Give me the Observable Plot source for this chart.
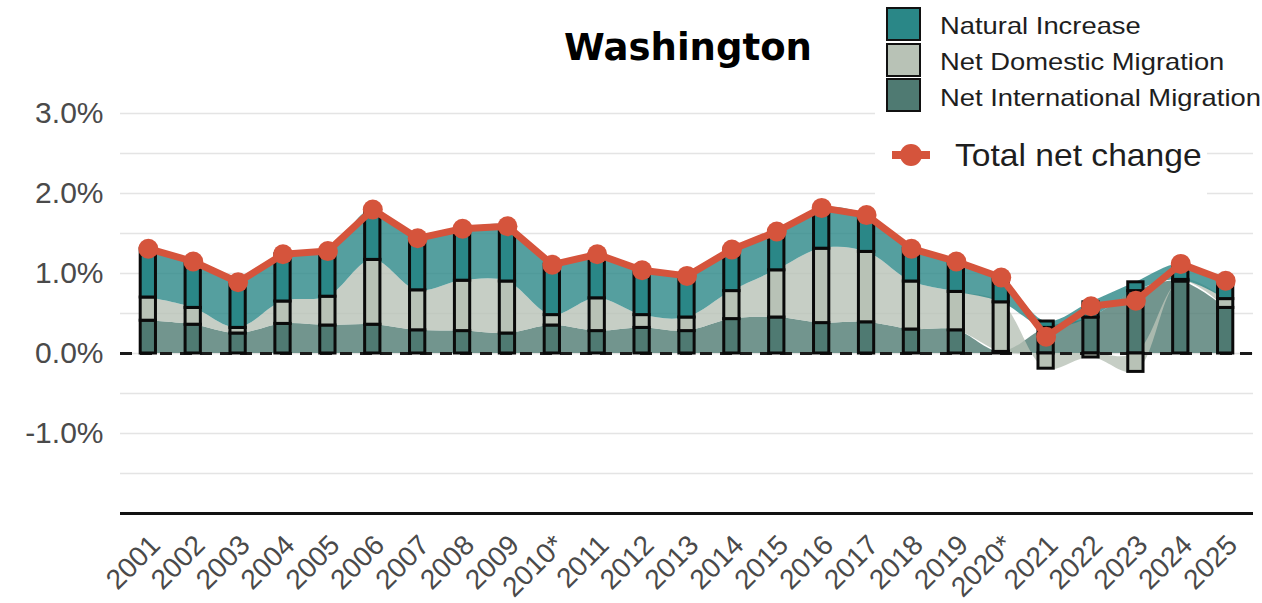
<!DOCTYPE html>
<html><head><meta charset="utf-8">
<script src="https://cdn.jsdelivr.net/npm/d3@7"></script>
<script src="https://cdn.jsdelivr.net/npm/@observablehq/plot@0.6"></script>
<style>
body{margin:0;background:#fff;}
#wrap{position:relative;width:1262px;height:603px;overflow:hidden;font-family:"Liberation Sans",Arial,sans-serif;}
#wrap svg.plot{position:absolute;left:0;top:0;}
.cover{position:absolute;background:#fff;}
#title{position:absolute;left:688px;top:29px;transform:translateX(-50%);font-family:"DejaVu Sans",sans-serif;font-weight:bold;font-size:37px;line-height:1;color:#000;white-space:nowrap;}
.sq{position:absolute;left:886px;width:31px;height:30px;border:2px solid #111;}
.lt{position:absolute;left:940px;font-size:24px;line-height:1;color:#1e1e1e;white-space:nowrap;transform:scaleX(1.14);transform-origin:0 0;}
#tot{position:absolute;left:955px;top:139px;font-size:32px;line-height:1;color:#1e1e1e;white-space:nowrap;transform:scaleX(1.05);transform-origin:0 0;}
#totsym{position:absolute;left:888px;top:140px;}
</style></head><body><div id="wrap"></div>
<script>
const years = [2001,2002,2003,2004,2005,2006,2007,2008,2009,2010,2011,2012,2013,2014,2015,2016,2017,2018,2019,2020,2021,2022,2023,2024,2025];
const yearLabels = ["2001","2002","2003","2004","2005","2006","2007","2008","2009","2010*","2011","2012","2013","2014","2015","2016","2017","2018","2019","2020*","2021","2022","2023","2024","2025"];
const naturalIncrease = [0.61,0.58,0.57,0.59,0.57,0.63,0.65,0.65,0.69,0.63,0.55,0.56,0.52,0.52,0.49,0.51,0.46,0.41,0.38,0.31,0.08,0.19,0.11,0.20,0.23];
const netDomestic = [0.29,0.21,0.07,0.28,0.36,0.81,0.50,0.63,0.65,0.13,0.41,0.16,0.17,0.35,0.59,0.93,0.88,0.60,0.48,0.62,-0.19,-0.05,-0.23,0.02,0.11];
const netInternational = [0.41,0.36,0.25,0.37,0.35,0.36,0.29,0.28,0.25,0.35,0.28,0.32,0.28,0.43,0.45,0.38,0.39,0.30,0.29,0.02,0.32,0.45,0.78,0.90,0.57];
const totalChange = [1.31,1.15,0.89,1.24,1.28,1.80,1.44,1.56,1.59,1.11,1.24,1.04,0.97,1.30,1.525,1.82,1.73,1.31,1.15,0.95,0.21,0.59,0.66,1.12,0.91];
const yTicks = [-1,0,1,2,3];
const gridLines = [-1.5,-1,-0.5,0,0.5,1,1.5,2,2.5,3];
const seriesNames = ["Net International Migration","Net Domestic Migration","Natural Increase"];
const barColors = ["#4f7a72","#b8c2b6","#2a8787"];
const lineColor = "#d5543c";

const rows = [];
years.forEach((yr,i)=>{
  let pos=0, neg=0;
  [netInternational[i], netDomestic[i], naturalIncrease[i]].forEach((v,k)=>{
    let y1,y2;
    if(v>=0){y1=pos;y2=pos+v;pos=y2;} else {y1=neg;y2=neg+v;neg=y2;}
    rows.push({year:yr,type:seriesNames[k],y1,y2});
  });
});
const totals = years.map((yr,i)=>({year:yr,total:totalChange[i]}));

const chart = Plot.plot({
  width:1262, height:603,
  marginLeft:120, marginRight:9, marginTop:113, marginBottom:90,
  x:{domain:[2000.38,2025.62]},
  y:{domain:[-2,3]},
  color:{domain:seriesNames, range:barColors},
  style:{background:"transparent", fontFamily:"Liberation Sans, Arial, sans-serif"},
  marks:[
    Plot.ruleY(gridLines,{stroke:"#e4e4e4",strokeWidth:1.5}),
    Plot.area(rows,{x1:"year",y1:"y1",y2:"y2",z:"type",fill:"type",fillOpacity:0.8,curve:"catmull-rom"}),
    Plot.ruleY([0],{stroke:"#1a1a1a",strokeWidth:3,strokeDasharray:"12,8"}),
    Plot.rect(rows,{x1:d=>d.year-0.17,x2:d=>d.year+0.17,y1:"y1",y2:"y2",fill:"type",stroke:"#0a0a0a",strokeWidth:3}),
    Plot.line(totals,{x:"year",y:"total",stroke:lineColor,strokeWidth:7}),
    Plot.dot(totals,{x:"year",y:"total",r:10,fill:lineColor}),
    Plot.ruleY([-2],{stroke:"#111",strokeWidth:3}),
    Plot.axisY(yTicks,{tickFormat:d=>d.toFixed(1)+"%",tickSize:0,tickPadding:17,fontSize:30,fill:"#4a4a4a",label:null}),
    Plot.axisX(years,{tickFormat:d=>yearLabels[years.indexOf(d)],tickRotate:-45,tickSize:0,tickPadding:27,dx:7,fontSize:28,fill:"#4a4a4a",label:null})
  ]
});
chart.classList.add("plot");
const wrap = document.getElementById("wrap");
wrap.appendChild(chart);

// legend background
const c1 = document.createElement("div"); c1.className="cover";
Object.assign(c1.style,{left:"875px",top:"0px",width:"387px",height:"120px"}); wrap.appendChild(c1);
const c2 = document.createElement("div"); c2.className="cover";
Object.assign(c2.style,{left:"875px",top:"120px",width:"332px",height:"80px"}); wrap.appendChild(c2);

const title = document.createElement("div"); title.id="title"; title.textContent="Washington"; wrap.appendChild(title);

const legendOrder = [2,1,0];
legendOrder.forEach((k,j)=>{
  const sq=document.createElement("div"); sq.className="sq";
  sq.style.top=(7+j*35.5)+"px"; sq.style.background=barColors[k]; wrap.appendChild(sq);
  const t=document.createElement("div"); t.className="lt"; t.textContent=seriesNames[k];
  t.style.top=(14+j*36)+"px"; wrap.appendChild(t);
});
const sym = document.createElementNS("http://www.w3.org/2000/svg","svg");
sym.setAttribute("id","totsym"); sym.setAttribute("width","46"); sym.setAttribute("height","30");
sym.innerHTML = `<line x1="4" x2="42" y1="15" y2="15" stroke="${lineColor}" stroke-width="8"/><circle cx="23" cy="15" r="11" fill="${lineColor}"/>`;
wrap.appendChild(sym);
const tot = document.createElement("div"); tot.id="tot"; tot.textContent="Total net change"; wrap.appendChild(tot);
</script></body></html>
